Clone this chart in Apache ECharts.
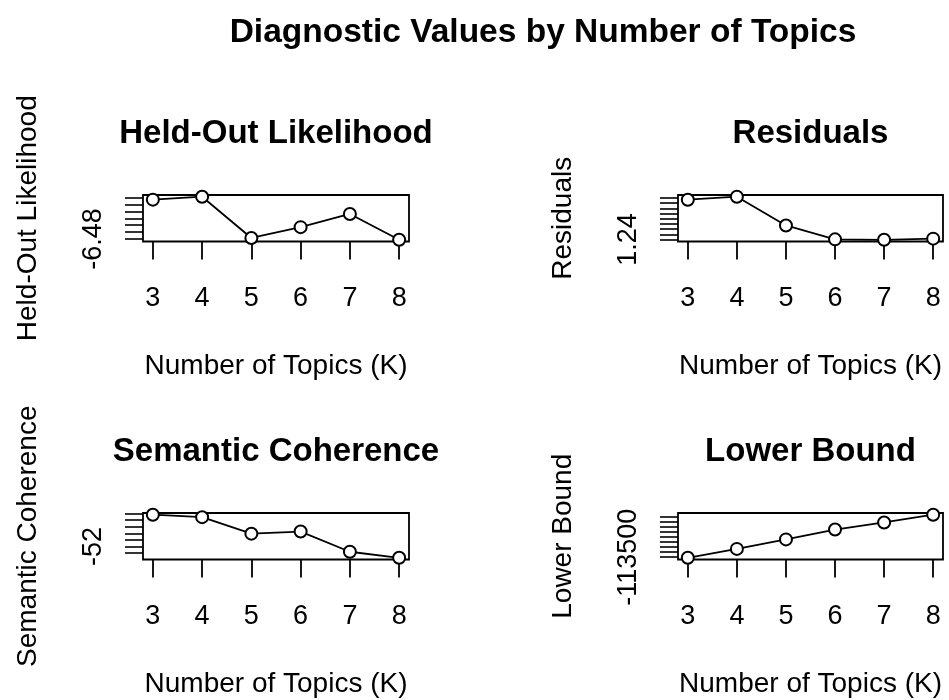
<!DOCTYPE html>
<html>
<head>
<meta charset="utf-8">
<script src="https://cdn.jsdelivr.net/npm/echarts@6/dist/echarts.min.js"></script>
<style>
html,body{margin:0;padding:0;background:#fff;}
#chart{width:949px;height:700px;}
</style>
</head>
<body>
<div id="chart"></div>
<script>
// ---- data ----
const mainTitle = 'Diagnostic Values by Number of Topics';
const topics = [3, 4, 5, 6, 7, 8];
const xAxisTitle = 'Number of Topics (K)';

const panelTitles = ['Held-Out Likelihood', 'Residuals', 'Semantic Coherence', 'Lower Bound'];

const heldOut = [-6.4516, -6.4495, -6.4792, -6.4714, -6.4619, -6.4805];
const residuals = [1.3167, 1.3224, 1.2671, 1.2403, 1.2395, 1.2417];
const semCoh = [-47.2, -47.57, -50.06, -49.74, -52.79, -53.7];
const lowerBound = [-113560, -112672, -111720, -110733, -110026, -109250];

const heldOutTicks = [-6.48, -6.475, -6.47, -6.465, -6.46, -6.455, -6.45];
const residualTicks = [1.24, 1.25, 1.26, 1.27, 1.28, 1.29, 1.30, 1.31, 1.32];
const semCohTicks = [-53, -52, -51, -50, -49, -48, -47];
const lowerBoundTicks = [-113500, -113000, -112500, -112000, -111500, -111000, -110500, -110000, -109500];

const heldOutLabels = [-6.48];
const residualLabels = [1.24];
const semCohLabels = [-52];
const lowerBoundLabels = [-113500];

// ---- build ----
const FONT = '"Liberation Sans", Arial, Helvetica, sans-serif';
const series = [heldOut, residuals, semCoh, lowerBound];
const ticks = [heldOutTicks, residualTicks, semCohTicks, lowerBoundTicks];
const labels = [heldOutLabels, residualLabels, semCohLabels, lowerBoundLabels];

const grids = [
  {left: 143, top: 195, width: 266, height: 46.5},
  {left: 678, top: 195, width: 265, height: 46.5},
  {left: 143, top: 513, width: 266, height: 46.5},
  {left: 678, top: 513, width: 265, height: 46.5}
];

function padRange(arr) {
  const mn = Math.min.apply(null, arr), mx = Math.max.apply(null, arr);
  const p = (mx - mn) * 0.04;
  return [mn - p, mx + p];
}
const xr = padRange(topics);

const option = {
  backgroundColor: '#fff',
  animation: false,
  title: [
    {text: mainTitle, left: 543, top: 16, textAlign: 'center', padding: 0,
     textStyle: {fontFamily: FONT, fontSize: 33.5, fontWeight: 'bold', color: '#000'}}
  ].concat(panelTitles.map((t, i) => ({
    text: t, left: grids[i].left + grids[i].width / 2, top: grids[i].top - 78,
    textAlign: 'center', padding: 0,
    textStyle: {fontFamily: FONT, fontSize: 33, fontWeight: 'bold', color: '#000'}
  }))),
  grid: grids.map(g => Object.assign({
    show: true, borderColor: '#000', borderWidth: 1.8, backgroundColor: 'transparent',
    containLabel: false, outerBoundsMode: 'none'
  }, g)),
  xAxis: grids.map((g, i) => ({
    gridIndex: i, type: 'value', min: xr[0], max: xr[1],
    axisLine: {show: false}, splitLine: {show: false},
    axisTick: {show: true, customValues: topics, length: 18, lineStyle: {color: '#000', width: 1.8}},
    axisLabel: {customValues: topics, margin: 44, fontSize: 27, fontFamily: FONT, color: '#000'},
    name: xAxisTitle, nameLocation: 'middle', nameGap: 111,
    nameTextStyle: {fontSize: 28, fontFamily: FONT, color: '#000'}
  })),
  yAxis: grids.map((g, i) => {
    const yr = padRange(series[i]);
    return {
      gridIndex: i, type: 'value', min: yr[0], max: yr[1],
      axisLine: {show: false}, splitLine: {show: false},
      axisTick: {show: true, customValues: ticks[i], length: 18, lineStyle: {color: '#000', width: 1.6}},
      axisLabel: {customValues: labels[i], rotate: 90, margin: 36, fontSize: 27, fontFamily: FONT, color: '#000',
                  formatter: v => String(v)},
      name: panelTitles[i], nameLocation: 'middle', nameGap: 101, nameRotate: 90,
      nameTextStyle: {fontSize: 28, fontFamily: FONT, color: '#000'}
    };
  }),
  series: series.map((vals, i) => ({
    type: 'line', xAxisIndex: i, yAxisIndex: i,
    data: topics.map((k, j) => [k, vals[j]]),
    symbol: 'emptyCircle', symbolSize: 12,
    lineStyle: {color: '#000', width: 1.8},
    itemStyle: {color: '#000', borderColor: '#000', borderWidth: 1.8},
    silent: true
  }))
};

const chart = echarts.init(document.getElementById('chart'), null, {renderer: 'canvas'});
chart.setOption(option);
</script>
</body>
</html>
